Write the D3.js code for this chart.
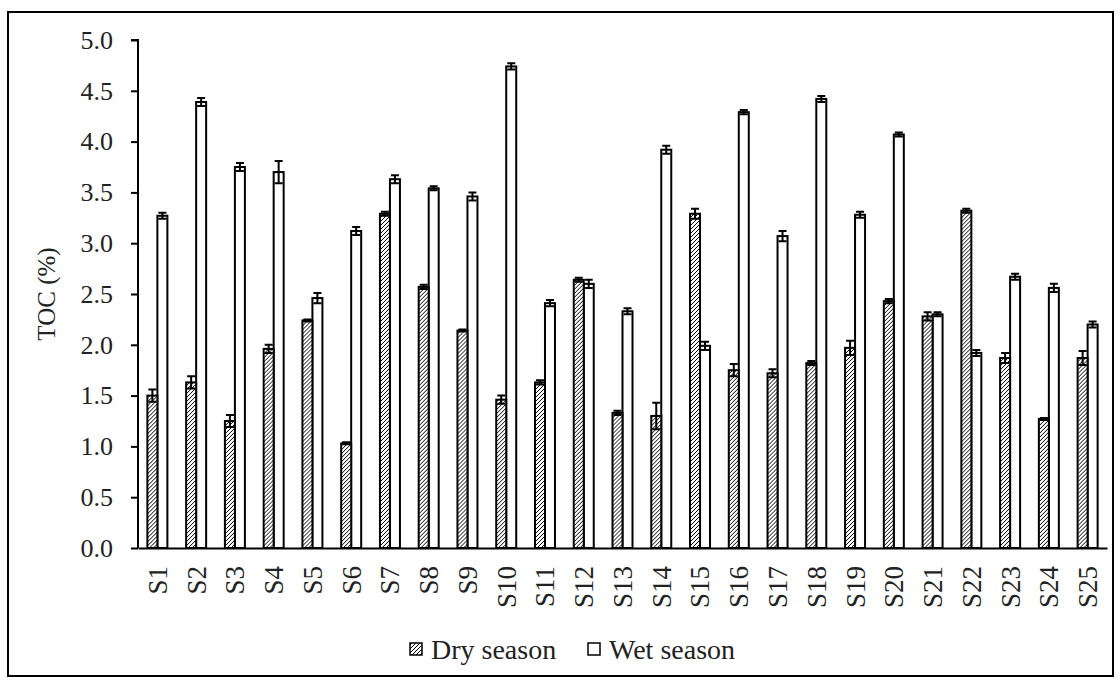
<!DOCTYPE html>
<html>
<head>
<meta charset="utf-8">
<script src="https://cdn.jsdelivr.net/npm/d3@7"></script>
</head>
<body style="margin:0; background:#fff">
<svg id="chart" width="1120" height="680" style="display:block"></svg>
<script>
// ##### Data
var sites = ['S1', 'S2', 'S3', 'S4', 'S5', 'S6', 'S7', 'S8', 'S9', 'S10',
  'S11', 'S12', 'S13', 'S14', 'S15', 'S16', 'S17', 'S18', 'S19', 'S20',
  'S21', 'S22', 'S23', 'S24', 'S25'];

var dryValues = [1.50, 1.63, 1.25, 1.96, 2.24, 1.03, 3.29, 2.57, 2.14, 1.46,
  1.63, 2.64, 1.33, 1.30, 3.29, 1.75, 1.72, 1.82, 1.97, 2.43,
  2.28, 3.32, 1.87, 1.27, 1.87];
var dryErrors = [0.06, 0.06, 0.06, 0.04, 0.01, 0.01, 0.02, 0.02, 0.01, 0.04,
  0.02, 0.02, 0.02, 0.13, 0.05, 0.06, 0.04, 0.02, 0.07, 0.02,
  0.04, 0.02, 0.05, 0.01, 0.07];

var wetValues = [3.27, 4.39, 3.75, 3.70, 2.46, 3.12, 3.63, 3.54, 3.46, 4.74,
  2.41, 2.60, 2.33, 3.92, 1.99, 4.29, 3.07, 4.42, 3.28, 4.07,
  2.30, 1.92, 2.67, 2.56, 2.20];
var wetErrors = [0.03, 0.04, 0.04, 0.11, 0.05, 0.04, 0.04, 0.02, 0.04, 0.03,
  0.03, 0.04, 0.03, 0.04, 0.04, 0.02, 0.05, 0.03, 0.03, 0.02,
  0.02, 0.03, 0.03, 0.04, 0.03];

var seriesNames = ['Dry season', 'Wet season'];
var yTicks = [0, 0.5, 1, 1.5, 2, 2.5, 3, 3.5, 4, 4.5, 5];

var serif = 'Liberation Serif';
var textColour = '#222';

// ##### Layout
var svg = d3.select('#chart');
var margin = {left: 138, right: 13, top: 40, bottom: 132};
var width = 1120, height = 680;

// outer frame
svg.append('rect')
  .attr('x', 8).attr('y', 12)
  .attr('width', 1105).attr('height', 664)
  .attr('fill', 'none').attr('stroke', '#000').attr('stroke-width', 2);

// hatch pattern for the dry season bars
var defs = svg.append('defs');
var pattern = defs.append('pattern')
  .attr('id', 'hatch')
  .attr('patternUnits', 'userSpaceOnUse')
  .attr('width', 4).attr('height', 4);
pattern.append('rect').attr('width', 4).attr('height', 4).attr('fill', '#fff');
pattern.append('path')
  .attr('d', 'M-1,1 l2,-2 M0,4 l4,-4 M3,5 l2,-2')
  .attr('stroke', '#000').attr('stroke-width', 1);

// ##### Scales
var x = d3.scaleBand()
  .domain(sites)
  .range([margin.left, width - margin.right]);

var y = d3.scaleLinear()
  .domain([0, 5])
  .range([height - margin.bottom, margin.top]);

var barW = 10;

// ##### Axes
var yAxis = svg.append('g')
  .attr('transform', 'translate(' + margin.left + ',0)')
  .call(d3.axisLeft(y).tickValues(yTicks).tickSize(7).tickPadding(18)
    .tickFormat(d3.format('.1f')));
yAxis.select('.domain').attr('stroke-width', 2).attr('d',
  'M-7,' + y(5) + 'H0V' + y(0));
yAxis.selectAll('.tick line').attr('stroke-width', 2);
yAxis.selectAll('text')
  .attr('font-family', serif)
  .attr('font-size', 26)
  .attr('fill', textColour);

svg.append('text')
  .attr('transform', 'translate(46,' + y(2.5) + ') rotate(-90)')
  .attr('text-anchor', 'middle')
  .attr('dy', '0.35em')
  .attr('font-family', serif)
  .attr('font-size', 25)
  .attr('fill', textColour)
  .text('TOC (%)');

// ##### Bars
var groups = svg.append('g').selectAll('g')
  .data(sites)
  .enter()
  .append('g')
  .attr('transform', function(d) { return 'translate(' + (x(d) + x.bandwidth() / 2) + ',0)'; });

// wet bars
groups.append('rect')
  .attr('x', 0)
  .attr('y', function(d, i) { return y(wetValues[i]); })
  .attr('width', barW)
  .attr('height', function(d, i) { return y(0) - y(wetValues[i]); })
  .attr('fill', '#fff').attr('stroke', '#000').attr('stroke-width', 2);

// dry bars
groups.append('rect')
  .attr('x', -barW)
  .attr('y', function(d, i) { return y(dryValues[i]); })
  .attr('width', barW)
  .attr('height', function(d, i) { return y(0) - y(dryValues[i]); })
  .attr('fill', 'url(#hatch)').attr('stroke', '#000').attr('stroke-width', 2);

// error bars
function errorBar(sel, cx, vals, errs) {
  sel.append('path')
    .attr('d', function(d, i) {
      var top = y(vals[i] + errs[i]), bot = y(vals[i] - errs[i]);
      return 'M' + (cx - 4) + ',' + top + 'H' + (cx + 4) +
        'M' + cx + ',' + top + 'V' + bot +
        'M' + (cx - 4) + ',' + bot + 'H' + (cx + 4);
    })
    .attr('fill', 'none').attr('stroke', '#000').attr('stroke-width', 2);
}
errorBar(groups, -barW / 2, dryValues, dryErrors);
errorBar(groups, barW / 2, wetValues, wetErrors);

// x axis line and labels
var xAxis = svg.append('g')
  .attr('transform', 'translate(0,' + y(0) + ')')
  .call(d3.axisBottom(x).tickSize(0).tickPadding(0));
xAxis.select('.domain').attr('stroke-width', 2);
xAxis.selectAll('text')
  .attr('transform', 'translate(0,18) rotate(-90)')
  .attr('dy', '0.35em')
  .attr('x', 0).attr('y', 0)
  .attr('text-anchor', 'end')
  .attr('font-family', serif)
  .attr('font-size', 27)
  .attr('fill', textColour);

// ##### Legend
var legend = svg.append('g').attr('transform', 'translate(410,649)');
var legendItems = legend.selectAll('g')
  .data(seriesNames)
  .enter()
  .append('g')
  .attr('transform', function(d, i) { return 'translate(' + (i * 178) + ',0)'; });
legendItems.append('rect')
  .attr('x', 0).attr('y', -6)
  .attr('width', 12).attr('height', 12)
  .attr('fill', function(d, i) { return i === 0 ? 'url(#hatch)' : '#fff'; })
  .attr('stroke', '#000').attr('stroke-width', 1.5);
legendItems.append('text')
  .attr('x', 21).attr('y', 0).attr('dy', '0.35em')
  .attr('font-family', serif)
  .attr('font-size', 28)
  .attr('fill', textColour)
  .text(function(d) { return d; });
</script>
</body>
</html>
